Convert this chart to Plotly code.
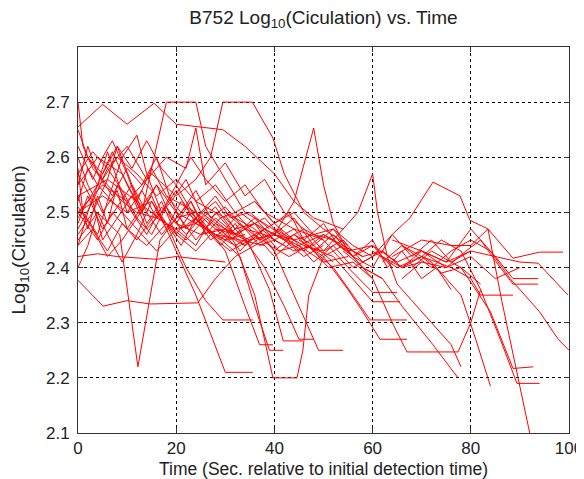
import plotly.graph_objects as go

# tracks: time (s since first detection) and log10(circulation)
t01 = [0, 1, 3, 6, 9, 12, 16, 20, 24, 28, 33, 38]
c01 = [2.70, 2.62, 2.58, 2.55, 2.52, 2.50, 2.49, 2.47, 2.48, 2.46, 2.45, 2.44]
t02 = [0, 5, 10, 15.5, 20, 29.5, 34, 40, 44, 48, 54]
c02 = [2.655, 2.696, 2.66, 2.698, 2.66, 2.65, 2.62, 2.57, 2.52, 2.49, 2.47]
t03 = [0, 4, 9, 13, 18, 24, 26, 30, 34, 38, 43]
c03 = [2.55, 2.60, 2.57, 2.50, 2.70, 2.70, 2.62, 2.56, 2.50, 2.48, 2.45]
t04 = [0, 5, 10, 15, 20, 24, 27, 29.5, 35.5, 39.7, 42, 46, 50, 55]
c04 = [2.50, 2.55, 2.52, 2.57, 2.53, 2.56, 2.60, 2.70, 2.70, 2.635, 2.57, 2.50, 2.47, 2.44]
t05 = [30, 33, 36, 40, 44, 48, 50, 52, 55, 58, 62]
c05 = [2.47, 2.50, 2.48, 2.46, 2.52, 2.653, 2.55, 2.48, 2.43, 2.40, 2.38]
t06 = [46, 50, 54, 57, 60, 61, 63, 65, 68, 72, 76, 78]
c06 = [2.44, 2.43, 2.47, 2.50, 2.57, 2.50, 2.42, 2.37, 2.34, 2.30, 2.26, 2.22]
t07 = [56, 60, 64, 67.6, 72.3, 77.8, 79.8, 83.5, 88.6, 94, 98.8]
c07 = [2.44, 2.42, 2.46, 2.49, 2.555, 2.53, 2.486, 2.47, 2.417, 2.428, 2.428]
t08 = [62, 66, 70, 75, 80, 85, 90, 93.7, 99.8]
c08 = [2.42, 2.40, 2.43, 2.41, 2.43, 2.42, 2.41, 2.408, 2.35]
t09 = [64, 70, 76, 80, 83.5, 86.3, 92]
c09 = [2.42, 2.45, 2.44, 2.44, 2.47, 2.34, 2.10]
t10 = [70, 74, 78, 82, 86, 89.4, 94]
c10 = [2.42, 2.45, 2.43, 2.36, 2.27, 2.19, 2.19]
t11 = [68, 72, 78, 84, 88.6, 92.7]
c11 = [2.40, 2.43, 2.40, 2.32, 2.217, 2.22]
t12 = [62, 66, 72, 78, 81, 84]
c12 = [2.41, 2.44, 2.41, 2.35, 2.27, 2.185]
t13 = [54, 58, 62, 66, 72.3, 77.4]
c13 = [2.43, 2.40, 2.38, 2.33, 2.26, 2.20]
t14 = [66, 72, 76, 80, 84, 88, 94, 97.8, 100]
c14 = [2.44, 2.40, 2.43, 2.45, 2.43, 2.38, 2.32, 2.27, 2.25]
t15 = [64, 70, 75, 80, 85, 88.6, 93.7]
c15 = [2.45, 2.43, 2.41, 2.47, 2.42, 2.38, 2.38]
t16 = [66, 70, 75, 79, 82, 86, 88.6, 93.7]
c16 = [2.38, 2.41, 2.40, 2.43, 2.45, 2.40, 2.37, 2.37]
t17 = [60, 65, 70, 76, 80, 82, 88.6]
c17 = [2.43, 2.40, 2.42, 2.40, 2.38, 2.35, 2.35]
t18 = [48, 52, 56, 60, 64, 67, 77.4, 80, 82]
c18 = [2.46, 2.45, 2.42, 2.38, 2.30, 2.247, 2.247, 2.30, 2.36]
t19 = [45, 50, 55, 58, 61.5, 67]
c19 = [2.45, 2.42, 2.36, 2.32, 2.27, 2.27]
t20 = [44, 48, 52, 56, 59.5, 67]
c20 = [2.46, 2.43, 2.40, 2.35, 2.305, 2.305]
t21 = [40, 46, 52, 56, 60, 65.6]
c21 = [2.47, 2.44, 2.42, 2.38, 2.338, 2.338]
t22 = [38, 44, 50, 55, 60, 65]
c22 = [2.50, 2.47, 2.45, 2.40, 2.355, 2.355]
t23 = [30, 36, 40, 44, 47, 49, 54]
c23 = [2.50, 2.47, 2.43, 2.35, 2.29, 2.25, 2.25]
t24 = [28, 34, 38, 42, 45, 48]
c24 = [2.48, 2.45, 2.40, 2.33, 2.27, 2.27]
t25 = [0, 5.1, 10, 14.7, 24.4, 28, 32, 36, 40, 44]
c25 = [2.377, 2.33, 2.34, 2.334, 2.336, 2.38, 2.42, 2.44, 2.46, 2.45]
t26 = [0, 4, 8.5, 12.2, 16.7, 20, 24, 28, 32]
c26 = [2.45, 2.50, 2.46, 2.22, 2.45, 2.49, 2.50, 2.47, 2.46]
t27 = [0, 5, 10, 15, 18, 20, 24, 27, 30, 35.6]
c27 = [2.50, 2.53, 2.50, 2.52, 2.47, 2.43, 2.35, 2.28, 2.21, 2.21]
t28 = [0, 6, 12, 18, 22, 26, 29.5, 35.6]
c28 = [2.53, 2.56, 2.52, 2.48, 2.40, 2.34, 2.305, 2.305]
t29 = [20, 26, 32, 36, 38.5, 39.7, 44.6, 45.8, 47, 50, 54, 58]
c29 = [2.50, 2.47, 2.44, 2.35, 2.25, 2.20, 2.20, 2.25, 2.35, 2.42, 2.44, 2.42]
t30 = [22, 28, 33, 36, 39, 41.8]
c30 = [2.50, 2.46, 2.42, 2.33, 2.25, 2.25]
t31 = [24, 30, 35, 39, 41.8, 45.8]
c31 = [2.52, 2.49, 2.44, 2.36, 2.267, 2.267]
t32 = [18, 24, 30, 34, 37, 39.7]
c32 = [2.53, 2.50, 2.43, 2.33, 2.26, 2.26]
t33 = [0, 2, 4, 6, 8, 10, 13, 16, 19, 22, 25, 28, 31, 34, 37, 40, 44, 48]
c33 = [2.52, 2.58, 2.55, 2.61, 2.56, 2.50, 2.54, 2.49, 2.52, 2.47, 2.50, 2.48, 2.45, 2.47, 2.44, 2.45, 2.43, 2.44]
t34 = [0, 3, 5, 7, 10, 12, 15, 18, 21, 24, 27, 30, 34, 38, 42]
c34 = [2.62, 2.56, 2.60, 2.63, 2.57, 2.52, 2.58, 2.53, 2.50, 2.54, 2.49, 2.51, 2.47, 2.46, 2.44]
t35 = [0, 2, 5, 8, 11, 14, 17, 20, 23, 26, 29, 32, 35, 38, 41, 45, 50, 55]
c35 = [2.48, 2.53, 2.47, 2.51, 2.55, 2.50, 2.46, 2.49, 2.52, 2.47, 2.45, 2.48, 2.44, 2.46, 2.43, 2.44, 2.41, 2.42]
t36 = [0, 1, 4, 6, 9, 12, 14, 17, 20, 24, 28, 32, 36, 40]
c36 = [2.58, 2.50, 2.46, 2.52, 2.60, 2.64, 2.57, 2.50, 2.55, 2.49, 2.52, 2.47, 2.48, 2.45]
t37 = [0, 3, 6, 9, 12, 15, 18, 21, 24, 27, 30, 33, 36, 39, 43, 47, 51, 56, 60]
c37 = [2.44, 2.47, 2.42, 2.45, 2.49, 2.46, 2.51, 2.47, 2.49, 2.45, 2.47, 2.43, 2.46, 2.44, 2.42, 2.44, 2.40, 2.41, 2.38]
t38 = [0, 2, 4, 7, 10, 13, 16, 19, 22, 25, 28, 31, 35, 39]
c38 = [2.55, 2.62, 2.57, 2.53, 2.58, 2.55, 2.60, 2.52, 2.56, 2.50, 2.53, 2.49, 2.50, 2.47]
t39 = [0, 4, 8, 12, 16, 20, 25, 30]
c39 = [2.42, 2.425, 2.42, 2.418, 2.415, 2.42, 2.415, 2.41]
t40 = [0, 3, 6, 8, 11, 14, 17, 20, 23, 26, 30, 34]
c40 = [2.46, 2.50, 2.56, 2.62, 2.55, 2.48, 2.52, 2.46, 2.50, 2.47, 2.45, 2.46]
t41 = [0, 2, 5, 8, 10, 13, 16, 19, 22, 26, 30, 34, 38, 42, 46, 50]
c41 = [2.60, 2.55, 2.50, 2.54, 2.47, 2.51, 2.55, 2.49, 2.46, 2.50, 2.47, 2.44, 2.47, 2.45, 2.42, 2.44]
t42 = [0, 4, 7, 10, 14, 18, 22, 26, 30, 34, 38, 42, 46, 50, 54, 58, 62, 66, 70]
c42 = [2.50, 2.45, 2.50, 2.47, 2.44, 2.48, 2.45, 2.49, 2.46, 2.44, 2.47, 2.45, 2.43, 2.46, 2.44, 2.42, 2.43, 2.40, 2.41]
t43 = [0, 2, 4, 6, 9, 12, 15, 18, 21, 24, 27, 31, 35]
c43 = [2.40, 2.44, 2.50, 2.46, 2.41, 2.46, 2.52, 2.48, 2.44, 2.49, 2.46, 2.43, 2.45]
t44 = [0, 3, 6, 10, 14, 18, 22, 24, 26, 30, 34, 38, 42, 46, 50]
c44 = [2.57, 2.61, 2.58, 2.62, 2.56, 2.60, 2.58, 2.653, 2.55, 2.59, 2.53, 2.56, 2.50, 2.47, 2.45]
t45 = [0, 2, 5, 8, 12, 16, 20, 24, 28, 32, 36, 40, 44, 48, 52, 56]
c45 = [2.65, 2.60, 2.56, 2.60, 2.57, 2.53, 2.56, 2.52, 2.55, 2.50, 2.52, 2.48, 2.50, 2.46, 2.47, 2.44]
t46 = [0, 3, 5, 8, 11, 14, 17, 20, 24, 28, 32, 36, 40, 44, 48, 52, 56, 60, 64]
c46 = [2.47, 2.52, 2.45, 2.49, 2.53, 2.47, 2.50, 2.54, 2.48, 2.51, 2.46, 2.49, 2.45, 2.47, 2.43, 2.46, 2.42, 2.44, 2.40]
t47 = [0, 2, 4, 6, 8, 11, 14, 17, 20, 23, 26, 29, 32, 36, 40, 44, 48]
c47 = [2.53, 2.47, 2.53, 2.48, 2.55, 2.50, 2.46, 2.51, 2.48, 2.52, 2.46, 2.49, 2.50, 2.46, 2.48, 2.45, 2.46]
t48 = [30, 34, 38, 42, 46, 50, 54, 58, 62, 66, 70, 74, 78, 82]
c48 = [2.50, 2.47, 2.49, 2.45, 2.47, 2.43, 2.45, 2.41, 2.43, 2.40, 2.42, 2.39, 2.40, 2.37]
t49 = [20, 25, 30, 35, 40, 45, 50, 55, 60, 65, 70, 75, 80, 85, 90]
c49 = [2.48, 2.46, 2.47, 2.45, 2.46, 2.44, 2.46, 2.43, 2.44, 2.41, 2.43, 2.40, 2.42, 2.38, 2.40]
t50 = [36, 40, 43, 46, 50, 53, 56, 60, 63, 66, 70, 73, 76]
c50 = [2.52, 2.48, 2.50, 2.45, 2.48, 2.44, 2.42, 2.45, 2.40, 2.43, 2.38, 2.40, 2.36]
t51 = [40, 44, 48, 52, 56, 60, 64, 68, 72, 76, 80]
c51 = [2.46, 2.49, 2.44, 2.47, 2.42, 2.40, 2.46, 2.42, 2.45, 2.41, 2.43]
t52 = [0, 3, 6, 9, 12, 15, 18, 21, 25, 29, 33, 37, 41, 45]
c52 = [2.57, 2.52, 2.58, 2.54, 2.49, 2.53, 2.47, 2.52, 2.48, 2.44, 2.48, 2.45, 2.47, 2.43]
t53 = [0, 2, 4, 7, 10, 13, 16, 20, 24, 28, 32]
c53 = [2.44, 2.50, 2.55, 2.61, 2.55, 2.50, 2.55, 2.50, 2.45, 2.49, 2.46]
t54 = [0, 3, 6, 9, 12, 16, 20, 24, 28, 32, 36, 40, 44, 48, 52, 56, 60]
c54 = [2.51, 2.47, 2.43, 2.48, 2.45, 2.50, 2.46, 2.43, 2.47, 2.44, 2.46, 2.42, 2.45, 2.41, 2.44, 2.40, 2.42]
t55 = [2, 5, 8, 11, 14, 17, 20, 23, 26, 30, 34, 38]
c55 = [2.60, 2.57, 2.62, 2.58, 2.63, 2.58, 2.55, 2.60, 2.56, 2.52, 2.55, 2.50]
t56 = [0, 4, 8, 12, 16, 20, 24, 28, 32, 36, 40, 44, 48, 52]
c56 = [2.49, 2.55, 2.51, 2.47, 2.43, 2.47, 2.44, 2.50, 2.46, 2.48, 2.43, 2.46, 2.44, 2.41]

tracks = [
    (t01, c01), (t02, c02), (t03, c03), (t04, c04), (t05, c05), (t06, c06),
    (t07, c07), (t08, c08), (t09, c09), (t10, c10), (t11, c11), (t12, c12),
    (t13, c13), (t14, c14), (t15, c15), (t16, c16), (t17, c17), (t18, c18),
    (t19, c19), (t20, c20), (t21, c21), (t22, c22), (t23, c23), (t24, c24),
    (t25, c25), (t26, c26), (t27, c27), (t28, c28), (t29, c29), (t30, c30),
    (t31, c31), (t32, c32), (t33, c33), (t34, c34), (t35, c35), (t36, c36),
    (t37, c37), (t38, c38), (t39, c39), (t40, c40), (t41, c41), (t42, c42),
    (t43, c43), (t44, c44), (t45, c45), (t46, c46), (t47, c47), (t48, c48),
    (t49, c49), (t50, c50), (t51, c51), (t52, c52), (t53, c53), (t54, c54),
    (t55, c55), (t56, c56),
]

x_ticks = [0, 20, 40, 60, 80, 100]
y_ticks = [2.1, 2.2, 2.3, 2.4, 2.5, 2.6, 2.7]

FONT = "Liberation Sans, Arial, sans-serif"

fig = go.Figure()
for t, c in tracks:
    fig.add_trace(go.Scatter(x=t, y=c, mode="lines",
                             line=dict(color="#ff0000", width=1),
                             showlegend=False, hoverinfo="skip"))

axis_style = dict(
    showgrid=True, gridcolor="black", gridwidth=1, griddash="3px,3px",
    zeroline=False, showline=True, linecolor="#333333", linewidth=1,
    mirror="ticks", ticks="inside", ticklen=5, tickcolor="#333333",
    tickfont=dict(family=FONT, size=17, color="#222222"),
    automargin=False,
)

fig.update_xaxes(range=[0, 100], tickvals=x_ticks,
                 title=dict(text="Time (Sec. relative to initial detection time)",
                            font=dict(family=FONT, size=17.5, color="#222222"),
                            standoff=5),
                 **axis_style)
fig.update_yaxes(range=[2.1, 2.8], tickvals=y_ticks, ticktext=[f"{v:.1f}" for v in y_ticks],
                 ticklabelstandoff=4,
                 title=dict(text="Log<sub>10</sub>(Circulation)",
                            font=dict(family=FONT, size=19, color="#222222"),
                            standoff=19),
                 **axis_style)

# the page body adds an 8px offset, so the figure is 8px smaller than the window
fig.update_layout(
    width=576, height=471,
    margin=dict(l=70, r=15, t=39, b=46),
    paper_bgcolor="white", plot_bgcolor="white",
    title=dict(text="B752 Log<sub>10</sub>(Ciculation) vs. Time",
               font=dict(family=FONT, size=19, color="#222222"),
               xref="paper", x=0.5, xanchor="center",
               yref="container", y=0.981, yanchor="middle"),
)

fig.write_html("out.html")
